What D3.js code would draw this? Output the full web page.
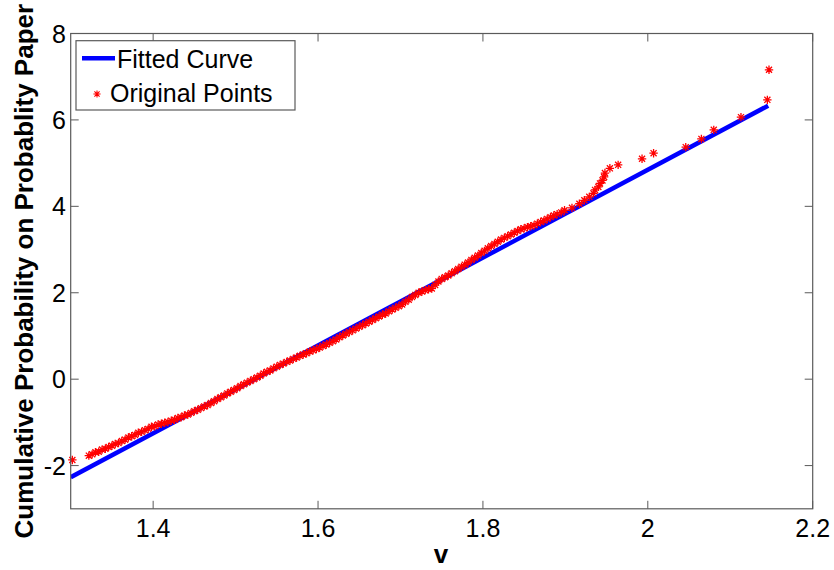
<!DOCTYPE html>
<html>
<head>
<meta charset="utf-8">
<script src="https://cdn.jsdelivr.net/npm/d3@7"></script>
<style>
  body { margin: 0; background: #fff; }
  svg { display: block; font-family: "Liberation Sans", Arial, sans-serif; }
</style>
</head>
<body>
<svg id="chart" width="834" height="570"></svg>
<script>
// fitted line end points
var fitV = [1.3, 2.146];
var fitP = [-2.268, 6.33];

// original points (v, probability on paper)
var ptsV = [1.302,
  1.322, 1.326, 1.330, 1.334, 1.338, 1.342, 1.346, 1.350, 1.354, 1.358, 1.362, 1.366, 1.370,
  1.374, 1.378, 1.382, 1.386, 1.390, 1.394, 1.398, 1.402, 1.406, 1.410, 1.414, 1.418,
  1.422, 1.426, 1.430, 1.434, 1.438, 1.442, 1.446, 1.450, 1.454, 1.458, 1.462, 1.466,
  1.470, 1.474, 1.478, 1.482, 1.486, 1.490, 1.494, 1.498, 1.502, 1.506, 1.510, 1.514,
  1.518, 1.522, 1.526, 1.530, 1.534, 1.538, 1.542, 1.546, 1.550, 1.554, 1.558, 1.562,
  1.566, 1.570, 1.574, 1.578, 1.582, 1.586, 1.590, 1.594, 1.598, 1.602, 1.606, 1.610,
  1.614, 1.618, 1.622, 1.626, 1.630, 1.634, 1.638, 1.642, 1.646, 1.650, 1.654, 1.658,
  1.662, 1.666, 1.670, 1.674, 1.678, 1.682, 1.686, 1.690, 1.694, 1.698, 1.702, 1.706,
  1.710, 1.714, 1.718, 1.722, 1.726, 1.730, 1.734, 1.738, 1.742, 1.746, 1.750, 1.754,
  1.758, 1.762, 1.766, 1.770, 1.774, 1.778, 1.782, 1.786, 1.790, 1.794, 1.798, 1.802,
  1.806, 1.810, 1.814, 1.818, 1.822, 1.826, 1.830, 1.834, 1.838, 1.842, 1.846, 1.850,
  1.854, 1.858, 1.862, 1.866, 1.870, 1.874, 1.878, 1.882, 1.886, 1.890, 1.895, 1.899,
  1.908, 1.917, 1.923, 1.929, 1.934, 1.936, 1.940, 1.942, 1.945, 1.947, 1.948, 1.954,
  1.964, 1.993, 2.007, 2.046, 2.065, 2.080, 2.113, 2.145, 2.147];
var ptsP = [-1.87,
  -1.77, -1.74, -1.69, -1.68, -1.63, -1.61, -1.57, -1.54, -1.50, -1.48, -1.43, -1.40, -1.35,
  -1.32, -1.29, -1.24, -1.22, -1.18, -1.15, -1.10, -1.09, -1.05, -1.03, -1.01, -0.99,
  -0.96, -0.94, -0.90, -0.88, -0.84, -0.82, -0.78, -0.74, -0.71, -0.67, -0.63, -0.60,
  -0.55, -0.51, -0.46, -0.42, -0.38, -0.33, -0.29, -0.25, -0.21, -0.16, -0.12, -0.08,
  -0.04, 0.00, 0.04, 0.08, 0.13, 0.17, 0.20, 0.25, 0.29, 0.33, 0.36, 0.40,
  0.43, 0.47, 0.50, 0.54, 0.57, 0.60, 0.64, 0.67, 0.70, 0.73, 0.77, 0.80,
  0.84, 0.88, 0.92, 0.97, 1.01, 1.05, 1.09, 1.13, 1.17, 1.21, 1.25, 1.29,
  1.33, 1.37, 1.41, 1.45, 1.49, 1.52, 1.57, 1.61, 1.65, 1.69, 1.73, 1.79,
  1.84, 1.90, 1.95, 2.00, 2.03, 2.06, 2.08, 2.10, 2.18, 2.26, 2.32, 2.36,
  2.40, 2.45, 2.50, 2.55, 2.60, 2.65, 2.70, 2.76, 2.81, 2.86, 2.92, 2.97,
  3.03, 3.08, 3.13, 3.18, 3.23, 3.27, 3.31, 3.35, 3.39, 3.43, 3.47, 3.49,
  3.52, 3.54, 3.56, 3.60, 3.64, 3.67, 3.71, 3.75, 3.79, 3.82, 3.86, 3.91,
  3.965, 4.06, 4.14, 4.22, 4.30, 4.38, 4.45, 4.53, 4.60, 4.68, 4.77, 4.88,
  4.96, 5.10, 5.23, 5.37, 5.56, 5.77, 6.065, 6.465, 7.16];

var xTicks = [1.4, 1.6, 1.8, 2, 2.2];
var yTicks = [-2, 0, 2, 4, 6, 8];
var legendLabels = ["Fitted Curve", "Original Points"];

(function () {
  var svg = d3.select("#chart");
  var x0 = 70.7, x1 = 812.7, y0 = 33.5, y1 = 508.8;
  var axisColor = "#5a5a5a";

  var x = d3.scaleLinear().domain([1.3, 2.2]).range([x0, x1]);
  var y = d3.scaleLinear().domain([-3, 8]).range([y1, y0]);

  // clip so the line stays inside the box
  svg.append("clipPath").attr("id", "clip")
    .append("rect").attr("x", x0).attr("y", y0)
    .attr("width", x1 - x0).attr("height", y1 - y0);

  var plot = svg.append("g").attr("clip-path", "url(#clip)");

  // fitted curve
  var fitData = fitV.map(function (v, i) { return [v, fitP[i]]; });
  plot.append("path")
    .datum(fitData)
    .attr("fill", "none")
    .attr("stroke", "#0000ff")
    .attr("stroke-width", 4.5)
    .attr("d", d3.line().x(d => x(d[0])).y(d => y(d[1])));

  // asterisk marker like matlab '*'
  function star(r) {
    var d = r * 0.72;
    return "M" + (-r) + ",0H" + r + "M0," + (-r) + "V" + r +
      "M" + (-d) + "," + (-d) + "L" + d + "," + d +
      "M" + (-d) + "," + d + "L" + d + "," + (-d);
  }

  var pts = ptsV.map(function (v, i) { return [v, ptsP[i]]; });
  svg.append("g").selectAll("path")
    .data(pts)
    .enter()
    .append("path")
    .attr("transform", d => "translate(" + x(d[0]) + "," + y(d[1]) + ")")
    .attr("d", star(4.2))
    .attr("fill", "none")
    .attr("stroke", "#ff0000")
    .attr("stroke-width", 1.3);

  // axes box with inward ticks on all sides
  var axes = svg.append("g");
  axes.append("rect")
    .attr("x", x0).attr("y", y0)
    .attr("width", x1 - x0).attr("height", y1 - y0)
    .attr("fill", "none").attr("stroke", axisColor).attr("stroke-width", 1.2);

  var tl = 8;
  xTicks.forEach(function (t) {
    axes.append("line").attr("x1", x(t)).attr("x2", x(t)).attr("y1", y1).attr("y2", y1 - tl)
      .attr("stroke", axisColor).attr("stroke-width", 1);
    axes.append("line").attr("x1", x(t)).attr("x2", x(t)).attr("y1", y0).attr("y2", y0 + tl)
      .attr("stroke", axisColor).attr("stroke-width", 1);
    axes.append("text")
      .attr("x", x(t)).attr("y", 537)
      .attr("text-anchor", "middle")
      .attr("font-size", 25)
      .text(d3.format("~g")(t));
  });
  yTicks.forEach(function (t) {
    axes.append("line").attr("x1", x0).attr("x2", x0 + tl).attr("y1", y(t)).attr("y2", y(t))
      .attr("stroke", axisColor).attr("stroke-width", 1);
    axes.append("line").attr("x1", x1).attr("x2", x1 - tl).attr("y1", y(t)).attr("y2", y(t))
      .attr("stroke", axisColor).attr("stroke-width", 1);
    axes.append("text")
      .attr("x", 66).attr("y", y(t))
      .attr("dy", "0.36em")
      .attr("text-anchor", "end")
      .attr("font-size", 25)
      .text(t);
  });

  // axis labels
  svg.append("text")
    .attr("x", 441).attr("y", 563)
    .attr("text-anchor", "middle")
    .attr("font-size", 26).attr("font-weight", "bold")
    .text("v");

  svg.append("text")
    .attr("transform", "translate(33," + ((y0 + y1) / 2) + ") rotate(-90)")
    .attr("text-anchor", "middle")
    .attr("font-size", 26).attr("font-weight", "bold")
    .text("Cumulative Probability on Probablity Paper");

  // legend
  var lg = svg.append("g");
  lg.append("rect")
    .attr("x", 76).attr("y", 40.7).attr("width", 219).attr("height", 69.3)
    .attr("fill", "#fff").attr("stroke", axisColor).attr("stroke-width", 1.2);
  lg.append("line")
    .attr("x1", 82).attr("x2", 115).attr("y1", 58.3).attr("y2", 58.3)
    .attr("stroke", "#0000ff").attr("stroke-width", 4.5);
  lg.append("path")
    .attr("transform", "translate(97,94)")
    .attr("d", star(3.6))
    .attr("fill", "none").attr("stroke", "#ff0000").attr("stroke-width", 1.1);
  lg.selectAll("text")
    .data(legendLabels)
    .enter()
    .append("text")
    .attr("x", d => d === legendLabels[0] ? 117 : 110)
    .attr("y", (d, i) => 67.5 + i * 34)
    .attr("font-size", 25)
    .text(d => d);
})();
</script>
</body>
</html>
